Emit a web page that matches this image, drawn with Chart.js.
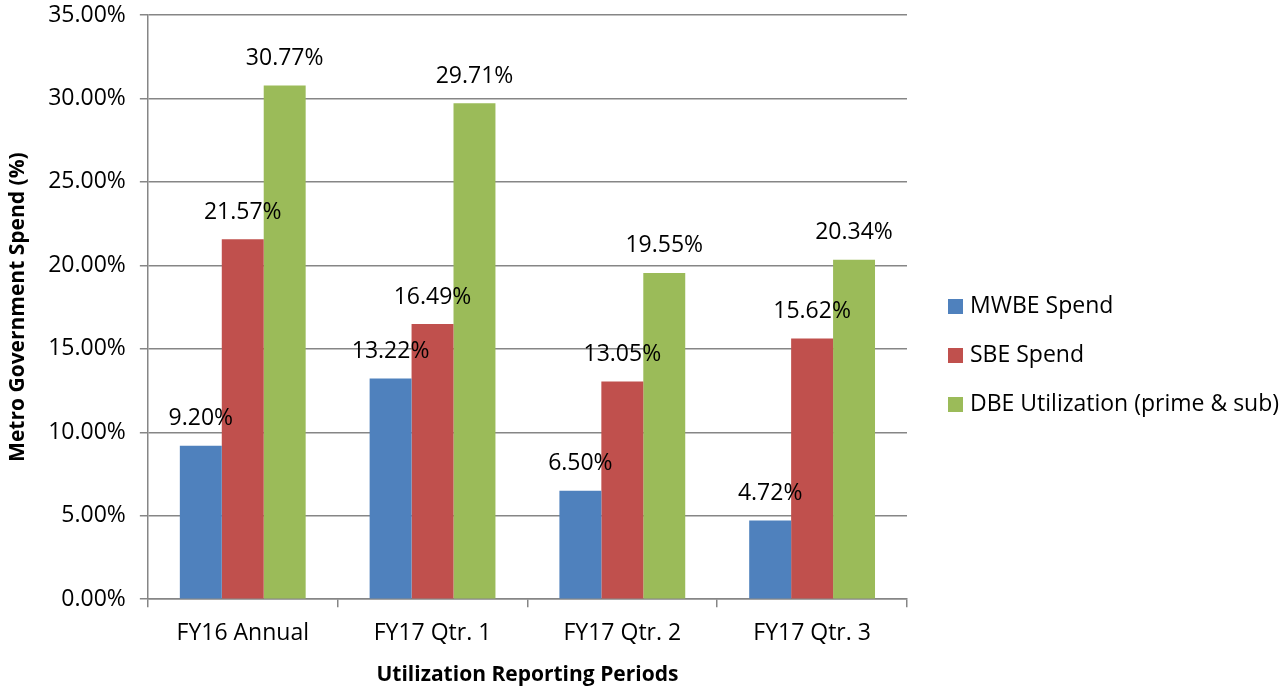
<!DOCTYPE html>
<html>
<head>
<meta charset="utf-8">
<script src="https://cdn.jsdelivr.net/npm/chart.js@4.4.1/dist/chart.umd.min.js"></script>
<style>
  html, body { margin: 0; padding: 0; background: #fff; }
  #wrap { width: 1286px; height: 688px; }
</style>
</head>
<body>
<div id="wrap"><canvas id="chart" width="1286" height="688"></canvas></div>
<script>
const periods = ['FY16 Annual', 'FY17 Qtr. 1', 'FY17 Qtr. 2', 'FY17 Qtr. 3'];
const seriesNames = ['MWBE Spend', 'SBE Spend', 'DBE Utilization (prime & sub)'];
const mwbeSpend = [9.20, 13.22, 6.50, 4.72];
const sbeSpend = [21.57, 16.49, 13.05, 15.62];
const dbeUtilization = [30.77, 29.71, 19.55, 20.34];
const seriesColors = ['#4F81BD', '#C0504D', '#9BBB59'];

const FONT = "'Open Sans', 'Liberation Sans', sans-serif";
const GRID = '#868686';

// draws the value above each bar, like Excel data labels
const barLabels = {
  id: 'barLabels',
  afterDatasetsDraw: (chart) => {
    const ctx = chart.ctx;
    ctx.save();
    ctx.font = `23px ${FONT}`;
    ctx.fillStyle = '#000';
    ctx.textAlign = 'center';
    ctx.textBaseline = 'middle';
    chart.data.datasets.forEach((ds, i) => {
      chart.getDatasetMeta(i).data.forEach((bar, j) => {
        ctx.fillText(ds.data[j].toFixed(2) + '%', bar.x, bar.y - 27);
      });
    });
    ctx.restore();
  },
};

// legend to the right of the plot, spaced the way Excel lays it out
const sideLegend = {
  id: 'sideLegend',
  afterDraw: (chart) => {
    const ctx = chart.ctx;
    const x = chart.chartArea.right + 41;
    const midY = chart.height / 2 + 11;
    ctx.save();
    ctx.font = `23px ${FONT}`;
    ctx.textBaseline = 'middle';
    chart.data.datasets.forEach((ds, i) => {
      const y = midY + (i - 1) * 49;
      ctx.fillStyle = ds.backgroundColor;
      ctx.fillRect(x, y - 7, 15, 15);
      ctx.fillStyle = '#000';
      ctx.fillText(ds.label, x + 22, y);
    });
    ctx.restore();
  },
};

new Chart(document.getElementById('chart').getContext('2d'), {
  type: 'bar',
  data: {
    labels: periods,
    datasets: [
      { label: seriesNames[0], data: mwbeSpend, backgroundColor: seriesColors[0] },
      { label: seriesNames[1], data: sbeSpend, backgroundColor: seriesColors[1] },
      { label: seriesNames[2], data: dbeUtilization, backgroundColor: seriesColors[2] },
    ],
  },
  plugins: [barLabels, sideLegend],
  options: {
    responsive: false,
    animation: false,
    layout: { padding: { top: 0, left: 5, right: 379, bottom: 0 } },
    datasets: {
      bar: { categoryPercentage: 0.663, barPercentage: 1.0 },
    },
    scales: {
      x: {
        grid: { offset: true, drawOnChartArea: false, color: GRID, tickLength: 8, lineWidth: 1.5 },
        border: { color: GRID, width: 1.5 },
        ticks: { color: '#000', font: { family: FONT, size: 23 }, padding: 12 },
        title: {
          display: true,
          text: 'Utilization Reporting Periods',
          color: '#000',
          font: { family: FONT, size: 21, weight: 'bold' },
          padding: { top: 4, bottom: 0 },
        },
      },
      y: {
        min: 0,
        max: 35,
        // top label sits flush with the canvas edge in the original
        afterFit: (scale) => { scale.paddingTop = 15; },
        grid: { color: GRID, tickLength: 8, lineWidth: 1.5 },
        border: { color: GRID, width: 1.5 },
        ticks: {
          stepSize: 5,
          color: '#000',
          padding: 14,
          font: { family: FONT, size: 23 },
          callback: (value) => `${value.toFixed(2)}%`,
        },
        title: {
          display: true,
          text: 'Metro Government Spend (%)',
          color: '#000',
          font: { family: FONT, size: 21, weight: 'bold' },
          padding: { top: 0, bottom: 4 },
        },
      },
    },
    plugins: {
      tooltip: { enabled: false },
      legend: { display: false },
    },
  },
});
</script>
</body>
</html>
